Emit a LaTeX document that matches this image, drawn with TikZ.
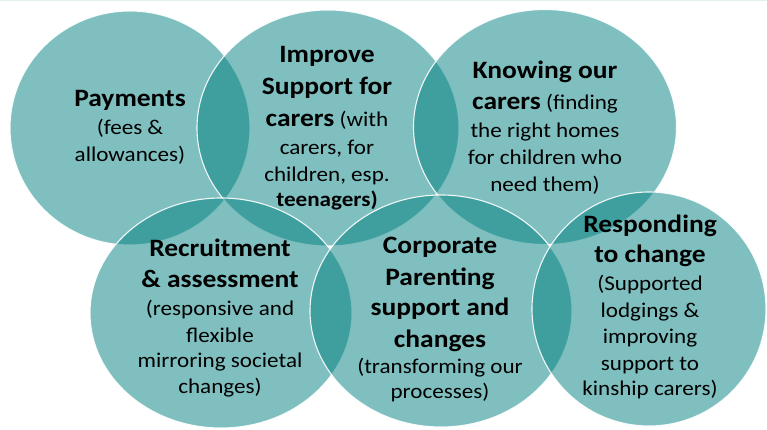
\documentclass[tikz,border=0pt]{standalone}
\usepackage{fontspec}
\setmainfont{Carlito}
\definecolor{tealc}{RGB}{0,128,128}
\begin{document}
\begin{tikzpicture}[x=1pt,y=-1pt,
  bubble/.style={fill=tealc, fill opacity=0.5, draw=white, draw opacity=0.9, line width=1.1pt},
  hd/.style={anchor=base, inner sep=0pt, xscale=1.1, font=\fontsize{25}{30}\selectfont\bfseries},
  tx/.style={anchor=base, inner sep=0pt, xscale=1.1, font=\fontsize{21}{26}\selectfont},
  tb/.style={anchor=base, inner sep=0pt, xscale=1.1, font=\fontsize{21}{26}\selectfont\bfseries}]
\useasboundingbox (0,0) rectangle (767,430);
\fill[white] (0,0) rectangle (767,430);
\draw[tealc!12, line width=1.5pt] (0,0.7) -- (767,0.7);

% circles
\path[bubble] (130,128) ellipse [x radius=120, y radius=117];
\path[bubble] (328,128) ellipse [x radius=131, y radius=118];
\path[bubble] (545,127) ellipse [x radius=131.5, y radius=117.5];
\path[bubble] (221,313) ellipse [x radius=131, y radius=115];
\path[bubble] (441,311) ellipse [x radius=131, y radius=116];
\path[bubble] (649,309) ellipse [x radius=117, y radius=117];

% circle 1
\node[hd] (a1) at (130,107) {Payments};
\node[tx] (a2) at (130,135) {(fees \&};
\node[tx] (a3) at (130,162) {allowances)};

% circle 2
\node[hd] (b1) at (327,63) {Improve};
\node[hd] (b2) at (327,95) {Support for};
\node[tx] (b3) at (327,127) {{\fontsize{25}{30}\selectfont\bfseries carers} (with};
\node[tx] (b4) at (327,155) {carers, for};
\node[tx] (b5) at (327,182) {children, esp.};
\node[tb] (b6) at (327,207) {teenagers)};

% circle 3
\node[hd] (c1) at (545,79) {Knowing our};
\node[tx] (c2) at (545,110) {{\fontsize{25}{30}\selectfont\bfseries carers} (finding};
\node[tx] (c3) at (545,138) {the right homes};
\node[tx] (c4) at (545,165) {for children who};
\node[tx] (c5) at (545,192) {need them)};

% circle 4
\node[hd] (d1) at (220,256) {Recruitment};
\node[hd] (d2) at (220,287) {\& assessment};
\node[tx] (d3) at (220,315) {(responsive and};
\node[tx] (d4) at (220,342) {flexible};
\node[tx] (d5) at (220,367) {mirroring societal};
\node[tx] (d6) at (220,393) {changes)};

% circle 5
\node[hd] (e1) at (440,253) {Corporate};
\node[hd] (e2) at (440,285) {Parenting};
\node[hd] (e3) at (440,315) {support and};
\node[hd] (e4) at (440,347) {changes};
\node[tx] (e5) at (440,373) {(transforming our};
\node[tx] (e6) at (440,398) {processes)};

% circle 6
\node[hd] (f1) at (650,232) {Responding};
\node[hd] (f2) at (650,262) {to change};
\node[tx] (f3) at (650,290) {(Supported};
\node[tx] (f4) at (650,317) {lodgings \&};
\node[tx] (f5) at (650,343) {improving};
\node[tx] (f6) at (650,370) {support to};
\node[tx] (f7) at (650,395) {kinship carers)};
\end{tikzpicture}
\end{document}
